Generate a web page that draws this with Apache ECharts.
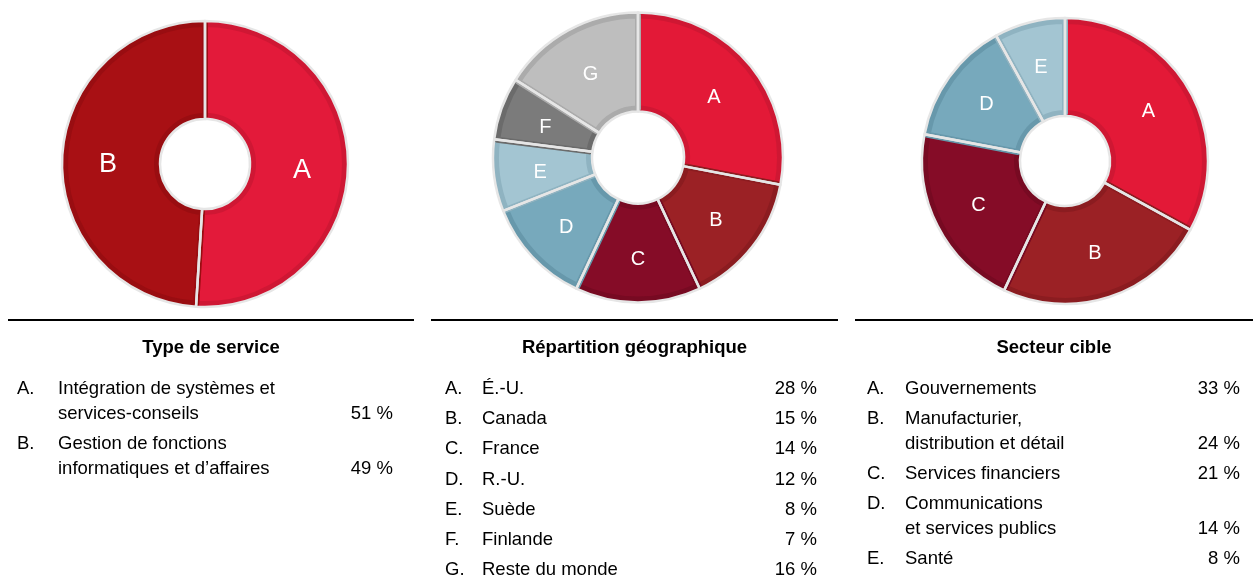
<!DOCTYPE html>
<html>
<head>
<meta charset="utf-8">
<script src="https://cdn.jsdelivr.net/npm/echarts@6/dist/echarts.min.js"></script>
<style>
html,body{margin:0;padding:0;background:#fff;}
#chart{width:1253px;height:579px;}
</style>
</head>
<body>
<div id="chart"></div>
<script>
// ---- Data ----
const typeTitle = 'Type de service';
const typeLetters = ['A', 'B'];
const typeNames = ['Intégration de systèmes et\nservices-conseils', 'Gestion de fonctions\ninformatiques et d\u2019affaires'];
const typeValues = [51, 49];

const geoTitle = 'Répartition géographique';
const geoLetters = ['A', 'B', 'C', 'D', 'E', 'F', 'G'];
const geoNames = ['É.-U.', 'Canada', 'France', 'R.-U.', 'Suède', 'Finlande', 'Reste du monde'];
const geoValues = [28, 15, 14, 12, 8, 7, 16];

const sectorTitle = 'Secteur cible';
const sectorLetters = ['A', 'B', 'C', 'D', 'E'];
const sectorNames = ['Gouvernements', 'Manufacturier,\ndistribution et détail', 'Services financiers', 'Communications\net services publics', 'Santé'];
const sectorValues = [33, 24, 21, 14, 8];

// ---- Styles ----
const typeFill = ['#e31a3a', '#a81014'];
const typeEdge = ['#cf1734', '#990d11'];
const geoFill = ['#e31937', '#9b2125', '#850c27', '#77a9bc', '#a3c5d2', '#7b7b7b', '#bebebe'];
const geoEdge = ['#cf1733', '#8b1c20', '#770a22', '#6798ab', '#8fb3c1', '#6b6b6b', '#ababab'];
const sectorFill = ['#e31937', '#9b2125', '#850c27', '#77a9bc', '#a3c5d2'];
const sectorEdge = ['#cf1733', '#8b1c20', '#770a22', '#6798ab', '#8fb3c1'];

const FONT = '"Liberation Sans", Arial, Helvetica, sans-serif';
const FS = 18.5;

function pieLayers(center, r0, r1, letters, values, fill, edge, labelSize, labelDy) {
  const base = {
    type: 'pie', center: center, startAngle: 90, clockwise: true,
    silent: true, animation: false, avoidLabelOverlap: false,
    labelLine: { show: false }, emphasis: { disabled: true }
  };
  const dataFill = letters.map((l, i) => ({
    name: l, value: values[i],
    itemStyle: { color: fill[i], borderColor: edge[i], borderWidth: 6 }
  }));
  const dataLine = letters.map((l, i) => ({ name: l, value: values[i] }));
  return [
    Object.assign({}, base, {
      radius: [r0 + 3, r1 - 3], z: 2,
      data: dataFill,
      label: { show: true, position: 'inside', color: '#ffffff', fontSize: labelSize, fontFamily: FONT,
               formatter: '{b}', offset: [0, labelDy] }
    }),
    Object.assign({}, base, {
      radius: [r0, r1], z: 3,
      data: dataLine,
      itemStyle: { color: 'rgba(0,0,0,0)', borderColor: '#e6e6e6', borderWidth: 2.5 },
      label: { show: false }
    })
  ];
}

function legendBlock(x0, x1, letterX, nameX, pctRight, title, letters, names, values) {
  const els = [];
  els.push({ type: 'rect', shape: { x: x0, y: 319, width: x1 - x0, height: 2 }, style: { fill: '#000' }, silent: true });
  els.push({ type: 'text', x: (x0 + x1) / 2, y: 348, silent: true,
    style: { text: title, font: 'bold ' + FS + 'px ' + FONT, fill: '#000', textAlign: 'center', textVerticalAlign: 'middle' } });
  let y = 389;
  letters.forEach((l, i) => {
    const lines = names[i].split('\n');
    els.push({ type: 'text', x: letterX, y: y, silent: true,
      style: { text: l + '.', font: FS + 'px ' + FONT, fill: '#000', textAlign: 'left', textVerticalAlign: 'middle' } });
    lines.forEach((ln, j) => {
      els.push({ type: 'text', x: nameX, y: y + j * 24.7, silent: true,
        style: { text: ln, font: FS + 'px ' + FONT, fill: '#000', textAlign: 'left', textVerticalAlign: 'middle' } });
    });
    const lastY = y + (lines.length - 1) * 24.7;
    els.push({ type: 'text', x: pctRight, y: lastY, silent: true,
      style: { text: values[i] + ' %', font: FS + 'px ' + FONT, fill: '#000', textAlign: 'right', textVerticalAlign: 'middle' } });
    y = lastY + 30.2;
  });
  return els;
}

const chart = echarts.init(document.getElementById('chart'), null, { renderer: 'canvas' });
const option = {
  backgroundColor: '#ffffff',
  animation: false,
  series: [].concat(
    pieLayers([205, 164], 45, 143, typeLetters, typeValues, typeFill, typeEdge, 27, 4),
    pieLayers([638, 157.5], 46, 145, geoLetters, geoValues, geoFill, geoEdge, 20, 3),
    pieLayers([1065, 161], 45, 143, sectorLetters, sectorValues, sectorFill, sectorEdge, 20, 0)
  ),
  graphic: [].concat(
    legendBlock(8, 414, 17, 58, 393, typeTitle, typeLetters, typeNames, typeValues),
    legendBlock(431, 838, 445, 482, 817, geoTitle, geoLetters, geoNames, geoValues),
    legendBlock(855, 1253, 867, 905, 1240, sectorTitle, sectorLetters, sectorNames, sectorValues)
  )
};
chart.setOption(option);
</script>
</body>
</html>
